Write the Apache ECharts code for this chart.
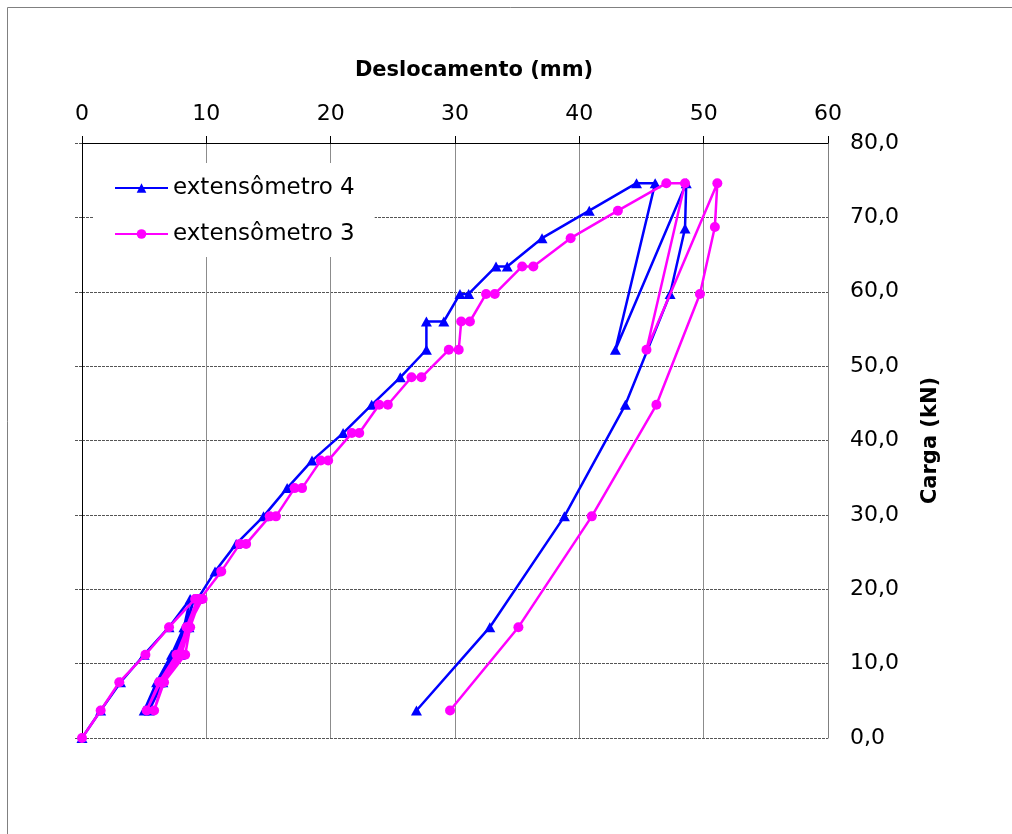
<!DOCTYPE html>
<html>
<head>
<meta charset="utf-8">
<script src="https://cdn.jsdelivr.net/npm/echarts@6/dist/echarts.min.js"></script>
<style>
html,body{margin:0;padding:0;background:#fff;}
#chart{width:1012px;height:834px;}
</style>
</head>
<body>
<div id="chart"></div>
<script>
// ---- data ----
const seriesNames = ['extensômetro 4', 'extensômetro 3'];

const ext4Desloc = [0, 1.5, 3.1, 5.0, 7.0, 8.7, 8.2, 7.2, 6.0, 5.0, 6.2, 7.4, 8.3, 9.0, 8.4, 7.6, 6.3, 5.4, 6.5, 7.9, 8.6, 9.3,
  10.7, 12.4, 14.6, 16.5, 18.5, 21.0, 23.3, 25.6, 27.7, 27.7, 29.1, 30.4, 31.1, 33.3, 34.2, 37.0, 40.8, 44.6, 46.1,
  42.9, 48.6, 48.5, 47.3, 43.7, 38.8, 32.8, 26.9];
const ext4Carga = [0, 3.7, 7.5, 11.2, 14.9, 18.7, 14.9, 11.2, 7.5, 3.7, 7.5, 11.2, 14.9, 18.7, 14.9, 11.2, 7.5, 3.7, 7.5, 11.2, 14.9, 18.7,
  22.4, 26.1, 29.8, 33.6, 37.3, 41.0, 44.8, 48.5, 52.2, 56.0, 56.0, 59.7, 59.7, 63.4, 63.4, 67.2, 70.9, 74.6, 74.6,
  52.2, 74.6, 68.5, 59.7, 44.8, 29.8, 14.9, 3.7];

const ext3Desloc = [0, 1.5, 3.0, 5.1, 7.0, 9.1, 9.7, 8.5, 7.6, 6.2, 5.2, 6.3, 7.8, 8.4, 9.3, 8.6, 8.0, 6.5, 5.8, 6.6, 8.3, 8.7, 9.5,
  11.2, 12.7, 13.2, 15.1, 15.6, 17.1, 17.7, 19.2, 19.8, 21.7, 22.3, 23.9, 24.6, 26.5, 27.3, 29.5, 30.3, 30.5, 31.2,
  32.5, 33.2, 35.4, 36.3, 39.3, 43.1, 47.0, 48.5, 45.4, 51.1, 50.9, 49.7, 46.2, 41.0, 35.1, 29.6];
const ext3Carga = [0, 3.7, 7.5, 11.2, 14.9, 18.7, 18.7, 14.9, 11.2, 7.5, 3.7, 7.5, 11.2, 14.9, 18.7, 14.9, 11.2, 7.5, 3.7, 7.5, 11.2, 14.9, 18.7,
  22.4, 26.1, 26.1, 29.8, 29.8, 33.6, 33.6, 37.3, 37.3, 41.0, 41.0, 44.8, 44.8, 48.5, 48.5, 52.2, 52.2, 56.0, 56.0,
  59.7, 59.7, 63.4, 63.4, 67.2, 70.9, 74.6, 74.6, 52.2, 74.6, 68.7, 59.7, 44.8, 29.8, 14.9, 3.7];

const xTitle = 'Deslocamento (mm)';
const yTitle = 'Carga (kN)';
const xMin = 0, xMax = 60, xStep = 10;
const yMin = 0, yMax = 80, yStep = 10;

// ---- chart ----
const FONT = 'DejaVu Sans';
const zip = (xs, ys) => xs.map((x, i) => [x, ys[i]]);

const chart = echarts.init(document.getElementById('chart'), null, {renderer: 'canvas'});
chart.setOption({
  animation: false,
  backgroundColor: '#ffffff',
  textStyle: {fontFamily: FONT},
  graphic: [{
    type: 'rect', shape: {x: 7.5, y: 7.5, width: 1010, height: 830},
    style: {fill: 'none', stroke: '#808080', lineWidth: 1}, silent: true, z: -10
  }],
  grid: {left: 82, right: 184, top: 143, bottom: 96},
  legend: {
    orient: 'vertical', left: 93, top: 163,
    padding: [13, 20, 11, 21],
    backgroundColor: '#ffffff',
    itemWidth: 53, itemHeight: 12, itemGap: 22, itemTextGap: 5,
    textStyle: {fontFamily: FONT, fontSize: 23, color: '#000', lineHeight: 24},
    data: seriesNames
  },
  xAxis: {
    type: 'value', position: 'top', min: xMin, max: xMax, interval: xStep,
    name: xTitle, nameLocation: 'middle', nameGap: 62,
    nameTextStyle: {fontFamily: FONT, fontSize: 21, fontWeight: 'bold', color: '#000', padding: [0, 0, 0, 38]},
    axisLine: {show: true, onZero: false, lineStyle: {color: '#000', width: 1}},
    axisTick: {show: true, inside: false, length: 7, lineStyle: {color: '#000'}},
    axisLabel: {fontFamily: FONT, fontSize: 22, color: '#000', margin: 18},
    splitLine: {show: true, lineStyle: {color: '#8c8c8c', width: 1, type: 'solid'}}
  },
  yAxis: [{
    type: 'value', position: 'right', min: yMin, max: yMax, interval: yStep,
    name: yTitle, nameLocation: 'middle', nameGap: 92, nameRotate: 90,
    nameTextStyle: {fontFamily: FONT, fontSize: 21, fontWeight: 'bold', color: '#000'},
    axisLine: {show: true, onZero: false, lineStyle: {color: '#808080', width: 1}},
    axisTick: {show: false},
    axisLabel: {fontFamily: FONT, fontSize: 22, color: '#000', margin: 22,
      formatter: v => v.toFixed(1).replace('.', ',')},
    splitLine: {show: true, lineStyle: {color: '#555', width: 1, type: [3, 1]}}
  }, {
    type: 'value', position: 'left', min: yMin, max: yMax, interval: yStep,
    axisLine: {show: true, onZero: false, lineStyle: {color: '#000', width: 1}},
    axisTick: {show: true, length: 7, lineStyle: {color: '#555', type: [3, 1]}},
    axisLabel: {show: false},
    splitLine: {show: false}
  }],
  series: [{
    name: seriesNames[0], type: 'line', data: zip(ext4Desloc, ext4Carga),
    symbol: 'triangle', symbolSize: [11, 10], showAllSymbol: true,
    lineStyle: {color: '#0000ff', width: 2.5},
    itemStyle: {color: '#0000ff'}, z: 2
  }, {
    name: seriesNames[1], type: 'line', data: zip(ext3Desloc, ext3Carga),
    symbol: 'circle', symbolSize: 10, showAllSymbol: true,
    lineStyle: {color: '#ff00ff', width: 2.5},
    itemStyle: {color: '#ff00ff'}, z: 3
  }]
});
</script>
</body>
</html>
